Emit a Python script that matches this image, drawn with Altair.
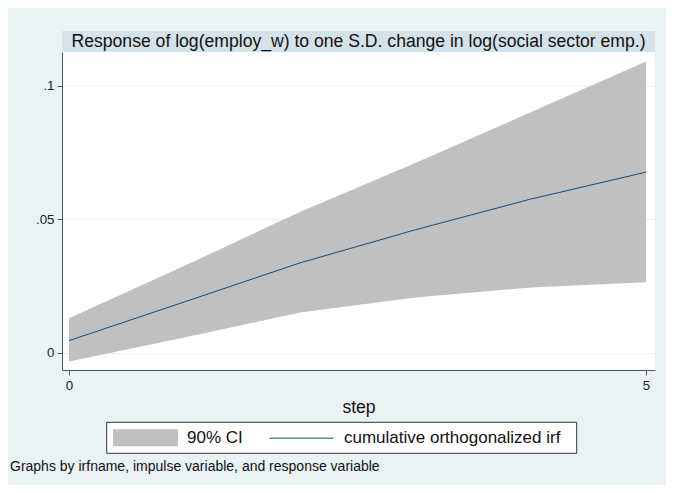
import altair as alt
import pandas as pd

FONT = "Liberation Sans"

steps = [0, 1, 2, 3, 4, 5]
irf = [0.0045, 0.0190, 0.0336, 0.0460, 0.0575, 0.0676]
lower = [-0.0033, 0.0057, 0.0150, 0.0207, 0.0244, 0.0264]
upper = [0.0129, 0.0325, 0.0527, 0.0710, 0.0900, 0.1090]
y_ticks = [0, 0.05, 0.1]
x_ticks = [0, 5]

TITLE = "Response of log(employ_w) to one S.D. change in log(social sector emp.)"
NOTE = "Graphs by irfname, impulse variable, and response variable"
CI_LABEL = "90% CI"
LINE_LABEL = "cumulative orthogonalized irf"

W, H = 593, 318

df = pd.DataFrame({
    "step": steps, "irf": irf, "lower": lower, "upper": upper,
    "ci": CI_LABEL, "ln": LINE_LABEL,
})
one = pd.DataFrame({"k": [0]})

xs = alt.Scale(domain=[-0.061, 5.078], nice=False, zero=False)
ys = alt.Scale(domain=[-0.0065, 0.1126], nice=False, zero=False)

band = alt.Chart(one).mark_rect(color="#d5e2e8").encode(
    x=alt.value(0), x2=alt.value(W), y=alt.value(-21), y2=alt.value(0)
)
title = alt.Chart(one).mark_text(
    text=TITLE, font=FONT, fontSize=17.6, color="#111111", align="center", baseline="middle"
).encode(x=alt.value(W / 2), y=alt.value(-10.5))

frame = alt.Chart(one).mark_rect(fill="white", stroke="#333333", strokeWidth=1).encode(
    x=alt.value(44.7), x2=alt.value(514.7), y=alt.value(370.3), y2=alt.value(401.3)
)

note = alt.Chart(one).mark_text(
    text=NOTE, font=FONT, fontSize=14, color="#111111", align="left", baseline="middle"
).encode(x=alt.value(-52), y=alt.value(415))

area = alt.Chart(df).mark_area(opacity=1).encode(
    x=alt.X("step:Q", scale=xs, axis=alt.Axis(
        values=x_ticks, title="step", grid=False, labelPadding=3, titlePadding=7,
        format="d")),
    y=alt.Y("lower:Q", scale=ys, axis=alt.Axis(
        values=y_ticks, title=None, grid=True, gridColor="#eaf2f3", labelPadding=3,
        labelExpr="datum.value == 0 ? '0' : replace(format(datum.value, '.2~f'), '0.', '.')")),
    y2="upper:Q",
    fill=alt.Fill("ci:N", scale=alt.Scale(range=["#c0c0c0"]), legend=alt.Legend(
        title=None, orient="none", legendX=51, legendY=353.2, padding=0,
        symbolType="M-1,-0.26H1V0.26H-1Z", symbolSize=4225, symbolOpacity=1,
        symbolStrokeWidth=0, labelOffset=9, labelFont=FONT, labelFontSize=17,
        labelLimit=0, labelColor="#111111")),
)

line = alt.Chart(df).mark_line(strokeWidth=1).encode(
    x=alt.X("step:Q", scale=xs),
    y=alt.Y("irf:Q", scale=ys),
    stroke=alt.Stroke("ln:N", scale=alt.Scale(range=["#1a476f"]), legend=alt.Legend(
        title=None, orient="none", legendX=207, legendY=353.7, padding=0,
        symbolType="stroke", symbolSize=4096, symbolStrokeWidth=1,
        labelOffset=10, labelFont=FONT, labelFontSize=17, labelLimit=0,
        labelColor="#111111")),
)

chart = alt.layer(band, title, frame, area, line, note).resolve_scale(
    fill="independent", stroke="independent"
).properties(
    width=W, height=H,
    autosize=alt.AutoSizeParams(type="none"),
    padding={"left": 54, "top": 44, "right": 11, "bottom": 115},
).configure(
    background="#eaf2f3", font=FONT
).configure_view(
    fill="white", stroke=None
).configure_axis(
    domainColor="#555555", tickColor="#555555", tickSize=5,
    labelFont=FONT, labelFontSize=13.3, labelColor="#222222",
    titleFont=FONT, titleFontSize=17.6, titleColor="#111111", titleFontWeight="normal",
)

chart.save("out.html", embed_options={"renderer": "svg", "actions": False})
